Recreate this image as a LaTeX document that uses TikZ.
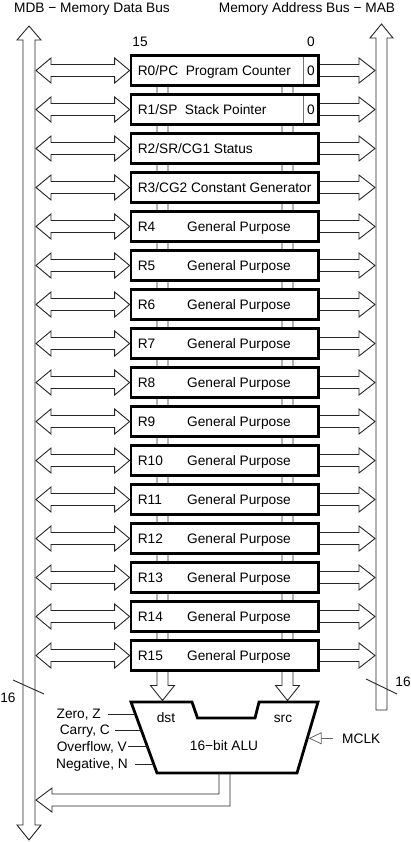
\documentclass[tikz,border=0pt]{standalone}
\usepackage{fontspec}
\setmainfont{Liberation Sans}
\usetikzlibrary{calc,backgrounds,arrows.meta}

\begin{document}
\begin{tikzpicture}[
	x=1pt, y=-1pt,
	font=\fontsize{13.7}{16}\selectfont,
	reg/.style={ % register box
		draw=black, line width=2.8pt, fill=white,
		minimum width=187.5pt, minimum height=30pt,
		inner sep=0pt
	},
	txt/.style={inner sep=0pt, anchor=base west},
	thin/.style={draw=black!85, line width=0.9pt, line join=miter},
	fatboth/.style={ % double arrow bus <-> register
		thin,
		to path={-- ($(\tikztostart)+(15pt,12.5pt)$) -- ($(\tikztostart)+(15pt,6pt)$)
			-- ($(\tikztotarget)+(-15pt,6pt)$) -- ($(\tikztotarget)+(-15pt,12.5pt)$)
			-- (\tikztotarget)
			-- ($(\tikztotarget)+(-15pt,-12.5pt)$) -- ($(\tikztotarget)+(-15pt,-6pt)$)
			-- ($(\tikztostart)+(15pt,-6pt)$) -- ($(\tikztostart)+(15pt,-12.5pt)$) -- cycle}
	},
	fatone/.style={ % register -> address bus
		thin,
		to path={($(\tikztostart)+(0pt,6pt)$) -- ($(\tikztotarget)+(-16pt,6pt)$)
			-- ($(\tikztotarget)+(-16pt,12.5pt)$) -- (\tikztotarget)
			-- ($(\tikztotarget)+(-16pt,-12.5pt)$) -- ($(\tikztotarget)+(-16pt,-6pt)$)
			-- ($(\tikztostart)+(0pt,-6pt)$)}
	},
	fatdown/.style={ % register file -> ALU input
		thin,
		to path={($(\tikztostart)+(-5.5pt,0pt)$) -- ($(\tikztotarget)+(-5.5pt,15pt)$)
			-- ($(\tikztotarget)+(-12pt,15pt)$) -- (\tikztotarget)
			-- ($(\tikztotarget)+(12pt,15pt)$) -- ($(\tikztotarget)+(5.5pt,15pt)$)
			-- ($(\tikztostart)+(5.5pt,0pt)$)}
	}
	]
	\useasboundingbox (0,0) rectangle (410,842);
	
	% ================= TITLES =================
	\node[txt, anchor=base] (mdbl) at (92,13) {MDB − Memory Data Bus};
	\node[txt, anchor=base] (mabl) at (307,13) {Memory Address Bus − MAB};
	\node[txt, anchor=base] (b15) at (140,47) {15};
	\node[txt, anchor=base] (b0) at (311,47) {0};
	
	% ================= BUSES =================
	\draw[thin] (23,40) -- (17,40) -- (29,26) -- (41,40) -- (35,40) -- (35,825)
		-- (41,825) -- (29,840) -- (17,825) -- (23,825) -- cycle;
	\draw[thin] (376,710) -- (376,38) -- (370,38) -- (381.5,24) -- (393,38)
		-- (387,38) -- (387,710) -- cycle;
	\coordinate (mdbE) at (36,0);
	\coordinate (mabW) at (375,0);
	
	% bus width marks
	\draw[thin] (13,680) -- (44,694);
	\node[txt, anchor=base] (w1) at (8,702) {16};
	\draw[thin] (366,679) -- (397,694);
	\node[txt, anchor=base] (w2) at (403,686) {16};
	
	% ================= REGISTERS =================
	\foreach \i in {0,...,15} {
		\node[reg] (r\i) at (224.75, 70.5+39*\i) {};
	}
	\node[txt] (t0) at ($(r0.west)+(8,5)$) {R0/PC\ \ Program Counter};
	\node[txt] (t1) at ($(r1.west)+(8,5)$) {R1/SP\ \ Stack Pointer};
	\node[txt] (t2) at ($(r2.west)+(8,5)$) {R2/SR/CG1 Status};
	\node[txt] (t3) at ($(r3.west)+(8,5)$) {R3/CG2 Constant Generator};
	\foreach \i in {4,...,15} {
		\node[txt] (n\i) at ($(r\i.west)+(8,5)$) {R\i};
		\node[txt] (d\i) at ($(r\i.west)+(57.4,5)$) {General Purpose};
	}
	% bit 0 cell of PC and SP
	\foreach \i in {0,1} {
		\draw[black!55, line width=0.8pt] ($(r\i.north east)+(-17,2.8)$) -- ($(r\i.south east)+(-17,-2.8)$);
		\node[txt, anchor=base] (z\i) at ($(r\i.east)+(-9,5)$) {0};
	}
	
	% bus connections
	\foreach \i in {0,...,15} {
		\coordinate (ml\i) at (mdbE |- r\i.west);
		\coordinate (mr\i) at (mabW |- r\i.east);
		\draw[fatboth] (ml\i) to (r\i.west);
		\draw[fatone] (r\i.east) to (mr\i);
	}
	
	% ================= ALU =================
	\draw[line width=2.8pt, line join=miter] (131,702) coordinate (aluTL) -- (192,702) -- (197.5,718)
		-- (255,718) -- (259,702) -- (318,702) coordinate (aluTR) -- (297,773) coordinate (aluBR)
		-- (157,773) coordinate (aluBL) -- cycle;
	\node[txt, anchor=base] (dst) at (166,722) {dst};
	\node[txt, anchor=base] (src) at (283,722) {src};
	\node[txt, anchor=base] (alu) at (224,750) {16−bit ALU};
	
	% operands from register file
	\coordinate (dstIn) at (162.5,700.5);
	\coordinate (srcIn) at (287.5,700.5);
	\coordinate (dstTop) at (r0.center -| dstIn);
	\coordinate (srcTop) at (r0.center -| srcIn);
	\begin{scope}[on background layer]
		\draw[fatdown] (dstTop) to (dstIn);
		\draw[fatdown] (srcTop) to (srcIn);
	\end{scope}
	
	% status flags
	\node[txt, anchor=base east] (fz) at (101,718) {Zero, Z};
	\node[txt, anchor=base east] (fc) at (110,734) {Carry, C};
	\node[txt, anchor=base east] (fv) at (127,751) {Overflow, V};
	\node[txt, anchor=base east] (fn) at (128,768) {Negative, N};
	\coordinate (zin) at ($(aluTL)!0.16!(aluBL)$);
	\coordinate (cin) at ($(aluTL)!0.40!(aluBL)$);
	\coordinate (vin) at ($(aluTL)!0.64!(aluBL)$);
	\coordinate (nin) at ($(aluTL)!0.88!(aluBL)$);
	\draw[thin] ([xshift=7pt]fz.east) -- (zin |- fz.east);
	\draw[thin] ([xshift=5pt]fc.east) -- (cin |- fc.east);
	\draw[thin] ([xshift=1pt]fv.east) -- (vin |- fv.east);
	\draw[thin] ([xshift=7pt]fn.east) -- (nin |- fn.east);
	
	% clock
	\node[txt] (mclk) at (342,743) {MCLK};
	\coordinate (clkIn) at ($(aluTR)!0.52!(aluBR)+(1.5,0)$);
	\draw[black!60, line width=0.8pt, -{Triangle[open, length=13pt, width=12pt]}]
		([xshift=-9pt]mclk.west) -- (clkIn |- mclk.west);
	
	% result back to MDB
	\coordinate (aluOut) at (mdbE |- 0,800);
	\draw[thin] (219,773) -- (219,794) -- (52,794) -- (52,788) -- (aluOut)
		-- (52,812) -- (52,806) -- (230,806) -- (230,773);
	
\end{tikzpicture}
\end{document}
